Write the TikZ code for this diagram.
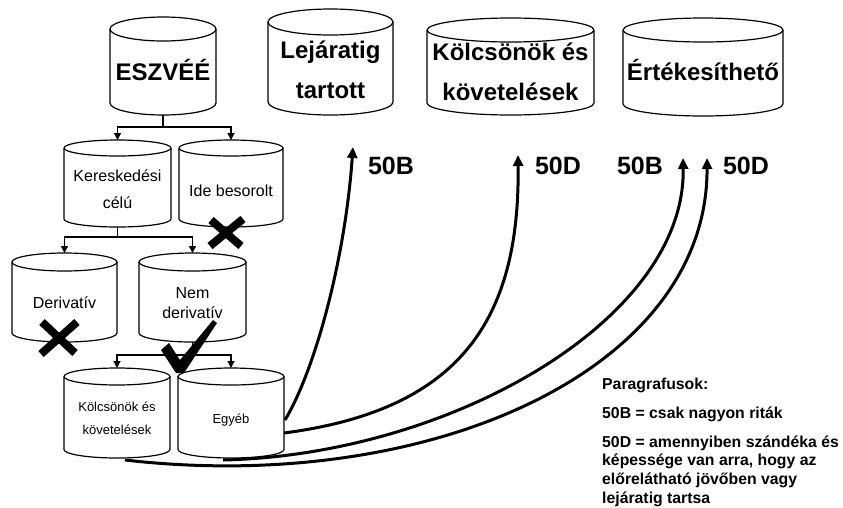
\documentclass[tikz,border=0pt]{standalone}
\usepackage{fontspec}
\setmainfont{Liberation Sans}
\usetikzlibrary{arrows.meta}
\newcommand\mycyl[6]{%
  \node[cylbox, minimum width={(#3-#2)*1pt}, minimum height={(#5-#4)*1pt}] (#1) at ({(#2+#3)/2},{(#4+#5)/2}) {};
  \draw[cylline] ({(#2+#3)/2},{#4+#6}) ellipse [x radius={(#3-#2)/2*1pt}, y radius=#6pt];
  \draw[cylline] (#2,{#4+#6}) -- (#2,{#5-#6}) arc [start angle=180, end angle=360, x radius={(#3-#2)/2*1pt}, y radius=#6pt] -- (#3,{#4+#6});
}
\begin{document}
\begin{tikzpicture}[x=1pt,y=-1pt,
  cylbox/.style={draw=none, inner sep=0pt, outer sep=0pt, rectangle},
  cylline/.style={line width=1.2pt, line join=round},
  conn/.style={line width=1.3pt, -{Triangle[length=7pt,width=7pt]}},
  bigarrow/.style={line width=3pt, -{Triangle[length=11pt,width=10pt]}},
  bigtxt/.style={font=\fontsize{24}{28}\selectfont\bfseries, inner sep=0pt, text height=17pt, text depth=0pt},
  midtxt/.style={font=\fontsize{16}{19}\selectfont, inner sep=0pt, text height=11.5pt, text depth=0pt},
  smalltxt/.style={font=\fontsize{13}{15}\selectfont, inner sep=0pt, text height=9.3pt, text depth=0pt},
  lbltxt/.style={font=\fontsize{25}{29}\selectfont\bfseries, inner sep=0pt, text height=18pt, text depth=0pt},
  legtxt/.style={font=\fontsize{15.8}{18}\selectfont\bfseries, inner sep=0pt, anchor=west, text height=11.4pt, text depth=0pt},
  xstroke/.style={line width=8pt}
]
\fill[white] (0,0) rectangle (843,507);
\useasboundingbox (0,0) rectangle (843,507);

% cylinders
\mycyl{esz}{110}{216}{17}{115}{12}
\mycyl{ker}{64}{171}{140}{227}{8}
\mycyl{ide}{179}{283}{140}{227}{8}
\mycyl{der}{12}{117}{253}{342}{9}
\mycyl{nem}{139}{246}{253}{342}{9}
\mycyl{kol}{64}{170}{368}{458}{8.5}
\mycyl{egy}{178}{284}{368}{458}{8.5}
\mycyl{lej}{268}{393}{9}{115}{13}
\mycyl{kk}{427}{594}{18}{115}{12}
\mycyl{ert}{623}{783}{18}{116}{12}

% texts in cylinders
\node[bigtxt] (t-esz) at (163,72) {ESZVÉÉ};
\node[midtxt] (t-ker1) at (117.5,176) {Kereskedési};
\node[midtxt] (t-ker2) at (117.5,203) {célú};
\node[midtxt] (t-ide) at (231,191) {Ide besorolt};
\node[midtxt] (t-der) at (64.5,303) {Derivatív};
\node[midtxt] (t-nem1) at (192.5,293) {Nem};
\node[midtxt] (t-nem2) at (192.5,313) {derivatív};
\node[smalltxt] (t-kol1) at (117,407) {Kölcsönök és};
\node[smalltxt] (t-kol2) at (117,430) {követelések};
\node[smalltxt] (t-egy) at (231,419) {Egyéb};
\node[bigtxt] (t-lej1) at (330.5,50) {Lejáratig};
\node[bigtxt] (t-lej2) at (330.5,90) {tartott};
\node[bigtxt] (t-kk1) at (510.5,52) {Kölcsönök és};
\node[bigtxt] (t-kk2) at (510.5,92) {követelések};
\node[bigtxt] (t-ert) at (703,72) {Értékesíthető};

% tree connectors
\draw[conn] (esz.south) -- ++(0,12) -| (ker.north);
\draw[conn] (esz.south) -- ++(0,12) -| (ide.north);
\draw[conn] (ker.south) -- ++(0,10) -| (der.north);
\draw[conn] (ker.south) -- ++(0,10) -| (nem.north);
\draw[conn] (nem.south) -- ++(0,13) -| (kol.north);
\draw[conn] (nem.south) -- ++(0,13) -| (egy.north);

% paragraph labels
\node[lbltxt] (l1) at (391,165) {50B};
\node[lbltxt] (l2) at (558,165) {50D};
\node[lbltxt] (l3) at (640,165) {50B};
\node[lbltxt] (l4) at (746,165) {50D};

% curve ends
\coordinate (a0) at (285,420);
\coordinate (a1) at (353,147);
\coordinate (b0) at (284,433);
\coordinate (b1) at (518,155);
\coordinate (c0) at (223,460);
\coordinate (c1) at (683,158);
\coordinate (d0) at (125,460);
\coordinate (d1) at (707,158);
\draw[bigarrow] (a0) .. controls (315,370) and (345,260) .. (a1);
\draw[bigarrow] (b0) .. controls (460,410) and (520,320) .. (b1);
\draw[bigarrow] (c0) .. controls (450,455) and (686,320) .. (c1);
\draw[bigarrow] (d0) .. controls (430,495) and (708,370) .. (d1);

% marks
\draw[xstroke] (211,220) -- (241,246);
\draw[xstroke] (243,219) -- (210,246);
\draw[xstroke] (42,322) -- (75,353);
\draw[xstroke] (77,322) -- (41,354);
\fill (161,350) -- (169,343) -- (180,360) -- (213,320) -- (217,323) -- (184,373) -- (176,373) -- cycle;

% legend
\node[legtxt] (g0) at (602,384) {Paragrafusok:};
\node[legtxt] (g1) at (602,413) {50B = csak nagyon riták};
\node[legtxt] (g2) at (602,442) {50D = amennyiben szándéka és};
\node[legtxt] (g3) at (602,460) {képessége van arra, hogy az};
\node[legtxt] (g4) at (602,479) {előrelátható jövőben vagy};
\node[legtxt] (g5) at (602,498) {lejáratig tartsa};
\end{tikzpicture}
\end{document}
